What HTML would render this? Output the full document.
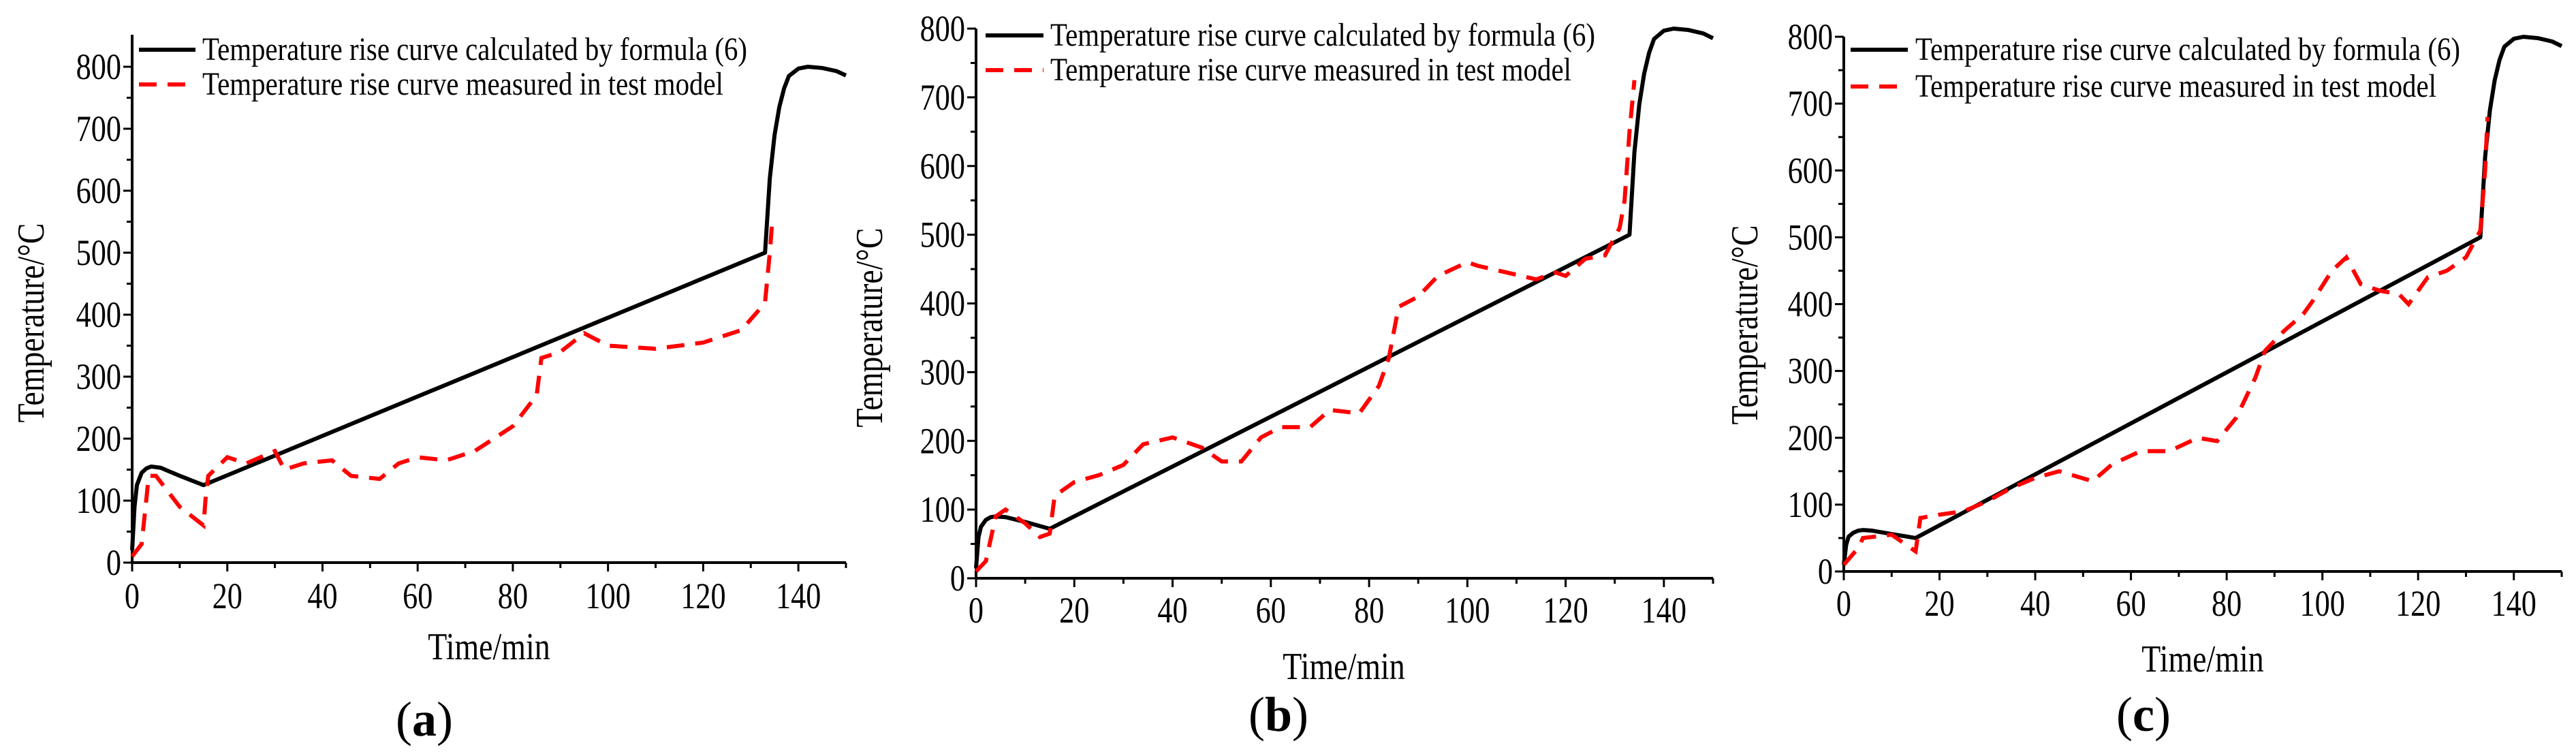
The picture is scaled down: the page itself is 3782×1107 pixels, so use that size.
<!DOCTYPE html>
<html><head><meta charset="utf-8"><style>
html,body{margin:0;padding:0;background:#fff;}
svg{display:block;}
text{font-family:"Liberation Serif",serif;}
</style></head><body>
<svg id="fig" width="3782" height="1107" viewBox="0 0 3782 1107"></svg>
<script>
const NS="http://www.w3.org/2000/svg";
const xTicks=[0,20,40,60,80,100,120,140];
const yTicks=[0,100,200,300,400,500,600,700,800];
const calcTimes=[0,0.5,1,2,3,4,6,10,15,133,133.5,134,135,136,137,138,140,142,145,148,150];
const calcA=[20,90,125,145,152,155,153,140,125,500,560,620,690,735,765,785,797,800,798,793,786];
const calcB=[15,60,75,85,89,90,89,82,72,500,560,620,690,735,765,785,797,800,798,793,786];
const calcC=[10,40,52,58,61,62,61,56,50,500,560,620,690,735,765,785,797,800,798,793,786];
const measTimesA=[0,2,3.5,5,10,15,15.5,16,20,24,30,32,36,42,46,52,56,60,66,72,74,80,85,86,90,95,100,110,120,128,132,133,134,134.5];
const measA=[10,30,140,140,90,60,110,140,170,160,180,150,160,165,140,135,160,170,165,180,190,220,270,330,340,370,350,345,355,375,410,420,500,550];
const measTimesB=[0,2,4,6,10,13,15,16,20,25,30,34,40,46,50,54,58,62,68,72,78,82,84,86,90,94,100,102,108,114,118,120,124,128,131,132,133,134];
const measB=[10,25,90,100,80,60,65,120,140,150,165,195,205,190,170,170,205,220,220,245,240,280,320,395,410,440,460,455,445,435,445,440,465,470,510,550,650,725];
const measTimesC=[0,3,4,10,15,16,20,25,30,35,40,45,52,56,62,68,74,78,82,86,88,92,96,98,102,105,108,112,116,118,122,126,130,133,134,134.5];
const measC=[10,35,50,55,30,80,85,90,105,125,140,150,135,160,180,180,200,195,230,290,330,360,385,405,450,470,430,420,415,400,440,450,470,510,600,680];
const legendLabels=["Temperature rise curve calculated by formula (6)","Temperature rise curve measured in test model"];
const xTitle="Time/min", yTitle="Temperature/°C";

const panels=[
 {id:"a",x0:194,x1:1242,y0:826,y1:98,top:51,calc:calcA,mt:measTimesA,mv:measA,lx:[204,287],ly:[73,124],tx:297,yt:[46,474],xtb:893,xtt:[718,968],lab:[623,1080]},
 {id:"b",x0:1433,x1:2515,y0:849,y1:42,top:42,calc:calcB,mt:measTimesB,mv:measB,lx:[1447,1532],ly:[52,103],tx:1542,yt:[1277,481],xtb:914,xtt:[1973,997],lab:[1877,1073]},
 {id:"c",x0:2707,x1:3761,y0:839,y1:54,top:54,calc:calcC,mt:measTimesC,mv:measC,lx:[2717,2801],ly:[73,127],tx:2812,yt:[2562,477],xtb:904,xtt:[3234,986],lab:[3147,1073]}
];
const SX=0.82;
const svg=document.getElementById("fig");
function mk(tag,attrs,parent){const e=document.createElementNS(NS,tag);for(const k in attrs)e.setAttribute(k,attrs[k]);(parent||svg).appendChild(e);return e;}
function txt(parent,x,y,s,size,anchor,rot){
 const t=mk("text",{x:0,y:0,"font-size":size,"text-anchor":anchor||"start",transform:`translate(${x},${y}) ${rot?"rotate(-90) ":""}scale(${SX},1)`},parent);
 t.textContent=s;return t;}

panels.forEach(p=>{
 const g=mk("g",{});
 
 
 const sx=t=>p.x0+(t/150)*(p.x1-p.x0);
 const sy=v=>p.y0-(v/800)*(p.y0-p.y1);
 const ya=mk("line",{x1:p.x0,y1:p.top,x2:p.x0,y2:p.y0+1,stroke:"#000","stroke-width":4},g);
 
 
 const xa=mk("line",{x1:p.x0-2,y1:p.y0,x2:p.x1,y2:p.y0,stroke:"#000","stroke-width":4},g);
 
 
 for(let v=0;v<=800;v+=50){const major=v%100===0;mk("line",{x1:p.x0-(major?13:8),y1:sy(v),x2:p.x0,y2:sy(v),stroke:"#000","stroke-width":3},g);}
 for(let t=0;t<=150;t+=10){const major=t%20===0;mk("line",{x1:sx(t),y1:p.y0,x2:sx(t),y2:p.y0+(major?13:8),stroke:"#000","stroke-width":3},g);}
 yTicks.forEach(v=>{const t=txt(g,p.x0-16,sy(v)+18,String(v),54,"end");
  
  });
 xTicks.forEach(v=>{const t=txt(g,sx(v),p.xtb,String(v),54,"middle");
  
  });
 const xt=txt(g,p.xtt[0],p.xtt[1],xTitle,56,"middle");
 
 
 const yt=txt(g,p.yt[0]+18,p.yt[1],yTitle,56,"middle",true);
 
 
 const cp=calcTimes.map((t,i)=>sx(t)+","+sy(p.calc[i])).join(" ");
 const cl=mk("polyline",{points:cp,fill:"none",stroke:"#000","stroke-width":6,"stroke-linejoin":"round"},g);
 
 
 const mp=p.mt.map((t,i)=>sx(t)+","+sy(p.mv[i])).join(" ");
 const ml=mk("polyline",{points:mp,fill:"none",stroke:"#ff0000","stroke-width":6,"stroke-dasharray":"26 16"},g);
 
 
 const l1=mk("line",{x1:p.lx[0],y1:p.ly[0],x2:p.lx[1],y2:p.ly[0],stroke:"#000","stroke-width":6},g);
 
 
 const l2=mk("line",{x1:p.lx[0],y1:p.ly[1],x2:p.lx[1],y2:p.ly[1],stroke:"#ff0000","stroke-width":6,"stroke-dasharray":"26 16"},g);
 
 
 legendLabels.forEach((s,i)=>{const t=mk("text",{x:p.tx,y:p.ly[i]+15,"font-size":48,textLength:i===0?800:765,lengthAdjust:"spacingAndGlyphs"},g);t.textContent=s;
  
  });
 const lb=mk("text",{x:p.lab[0],y:p.lab[1],"text-anchor":"middle","font-size":72},g);
 lb.innerHTML='(<tspan font-weight="bold">'+p.id+'</tspan>)';
 
 
});
</script>
</body></html>
